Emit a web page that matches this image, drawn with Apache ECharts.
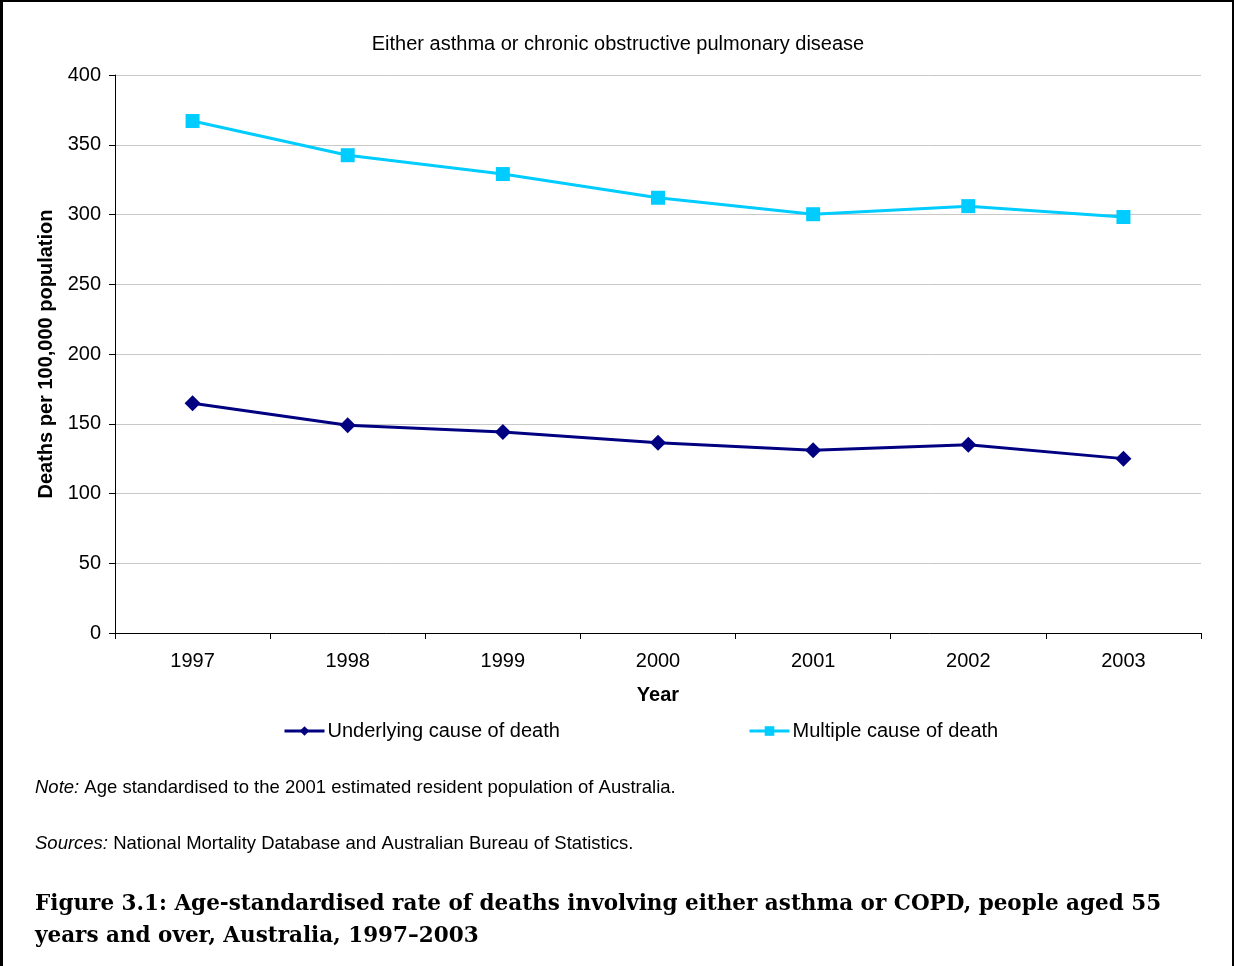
<!DOCTYPE html>
<html>
<head>
<meta charset="utf-8">
<script src="https://cdn.jsdelivr.net/npm/echarts@6/dist/echarts.min.js"></script>
<style>
html,body{margin:0;padding:0;background:#fff;}
#chart{width:1236px;height:966px;}
</style>
</head>
<body>
<div id="chart"></div>
<script>
var years = ['1997','1998','1999','2000','2001','2002','2003'];
var underlying = [164.7, 149, 144, 136.4, 131, 135, 125];
var multiple = [367, 342.5, 329, 312, 300.2, 306, 298.2];
var yTicks = [0, 50, 100, 150, 200, 250, 300, 350, 400];

var font = 'Liberation Sans, Arial, sans-serif';
var chart = echarts.init(document.getElementById('chart'));
chart.setOption({
  backgroundColor: '#fff',
  animation: false,
  title: {
    text: 'Either asthma or chronic obstructive pulmonary disease',
    left: 613, top: 29, textAlign: 'center',
    textStyle: {fontFamily: font, fontSize: 20, fontWeight: 'normal', color: '#000'}
  },
  grid: {left: 115, right: 35, top: 75, bottom: 333, containLabel: false},
  legend: [{
    data: ['Underlying cause of death'],
    left: 278, top: 716, itemWidth: 40, itemHeight: 12, itemGap: 2,
    lineStyle: {width: 3},
    textStyle: {fontFamily: font, fontSize: 20, color: '#000', padding: [0,0,0,-2]}
  }, {
    data: ['Multiple cause of death'],
    left: 743, top: 716, itemWidth: 40, itemHeight: 12, itemGap: 2,
    lineStyle: {width: 3},
    textStyle: {fontFamily: font, fontSize: 20, color: '#000', padding: [0,0,0,-2]}
  }],
  xAxis: {
    type: 'category', data: years, boundaryGap: true,
    name: 'Year', nameLocation: 'middle', nameGap: 52,
    nameTextStyle: {fontFamily: font, fontSize: 20, fontWeight: 'bold', color: '#000'},
    axisLine: {lineStyle: {color: '#000', width: 1}},
    axisTick: {show: true, length: 6, lineStyle: {color: '#000'}},
    axisLabel: {fontFamily: font, fontSize: 20, color: '#000', margin: 18}
  },
  yAxis: {
    type: 'value', min: yTicks[0], max: yTicks[yTicks.length-1], interval: 50,
    name: 'Deaths per 100,000 population', nameLocation: 'middle', nameGap: 56,
    nameTextStyle: {fontFamily: font, fontSize: 20, fontWeight: 'bold', color: '#000'},
    axisLine: {show: true, lineStyle: {color: '#000', width: 1}},
    axisTick: {show: true, length: 6, lineStyle: {color: '#000'}},
    axisLabel: {fontFamily: font, fontSize: 20, color: '#000', margin: 14},
    splitLine: {lineStyle: {color: '#c8c8c8', width: 1}}
  },
  series: [{
    name: 'Underlying cause of death', type: 'line', data: underlying,
    symbol: 'diamond', symbolSize: 16,
    lineStyle: {color: '#000080', width: 3},
    itemStyle: {color: '#000080'}
  }, {
    name: 'Multiple cause of death', type: 'line', data: multiple,
    symbol: 'rect', symbolSize: 14,
    lineStyle: {color: '#00ccff', width: 3},
    itemStyle: {color: '#00ccff'}
  }],
  graphic: [
    {type: 'rect', shape: {x: 0, y: 0, width: 3, height: 966}, style: {fill: '#000'}},
    {type: 'rect', shape: {x: 0, y: 0, width: 1234, height: 2}, style: {fill: '#000'}},
    {type: 'rect', shape: {x: 1232, y: 0, width: 2, height: 966}, style: {fill: '#000'}},
    {type: 'text', left: 35, top: 778, style: {
      text: '{i|Note:} Age standardised to the 2001 estimated resident population of Australia.',
      rich: {i: {fontStyle: 'italic', fontFamily: font, fontSize: 18.5, fill: '#000'}},
      font: '18.5px ' + font, fill: '#000'}},
    {type: 'text', left: 35, top: 834, style: {
      text: '{i|Sources:} National Mortality Database and Australian Bureau of Statistics.',
      rich: {i: {fontStyle: 'italic', fontFamily: font, fontSize: 18.5, fill: '#000'}},
      font: '18.5px ' + font, fill: '#000'}},
    {type: 'text', left: 35, top: 888, style: {
      text: 'Figure 3.1: Age-standardised rate of deaths involving either asthma or COPD, people aged 55\nyears and over, Australia, 1997\u20132003',
      font: 'bold 21.5px "DejaVu Serif", serif', fill: '#000', lineHeight: 32}}
  ]
});
</script>
</body>
</html>
